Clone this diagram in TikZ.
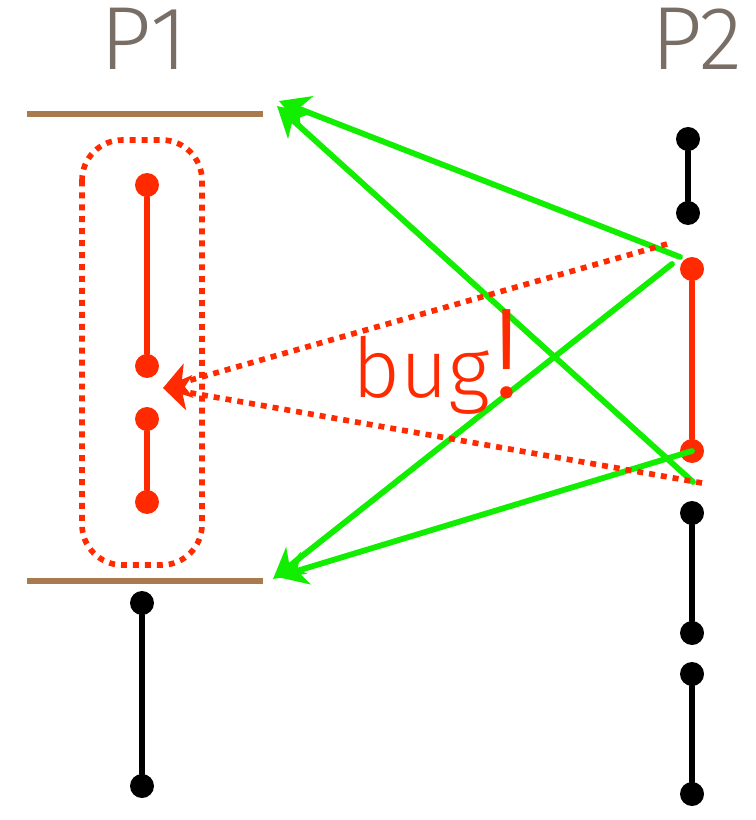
\documentclass[tikz,border=0pt]{standalone}
\usepackage{fontspec}
\setmainfont{Fira Sans Light}
\usetikzlibrary{arrows.meta}
\definecolor{nhan}{HTML}{786E66}
\definecolor{nau}{HTML}{A87B4F}
\definecolor{do}{HTML}{FF2A00}
\definecolor{xanh}{HTML}{11EE00}
\begin{document}
\begin{tikzpicture}[x=0.02cm, y=-0.02cm, line join=round, line cap=round,
	>={Stealth[length=17pt,width=19pt,inset=5pt]},
	cham/.style={circle, fill, inner sep=0pt, minimum size=0.48cm},
	doan/.style={line width=3.5pt},
	moc/.style={nau, line width=3.4pt, line cap=butt},
	muiten/.style={xanh, line width=3.3pt, ->},
	cham do/.style={do, line width=3.2pt, line cap=butt, dash pattern=on 3.4pt off 3.4pt}]
	% Khung hình
	\useasboundingbox (0,0) rectangle (755,820);
	
	% Tên hai tiến trình
	\node[text=nhan, font=\fontsize{51}{60}\selectfont] (p1) at (144,39) {P1};
	\node[text=nhan, font=\fontsize{51}{60}\selectfont] (p2) at (697,39) {P2};
	
	% Hai mốc của P1
	\coordinate (m1) at (27,114); \coordinate (m2) at (263,114);
	\coordinate (m3) at (27,581); \coordinate (m4) at (263,581);
	\draw[moc] (m1)--(m2);
	\draw[moc] (m3)--(m4);
	
	% Các đoạn trên P1
	\node[cham, do] (a1) at (147,185) {};
	\node[cham, do] (a2) at (147,366) {};
	\node[cham, do] (a3) at (147,419) {};
	\node[cham, do] (a4) at (147,502) {};
	\draw[doan, do, line width=3pt] (a1)--(a2);
	\draw[doan, do, line width=3pt] (a3)--(a4);
	\node[cham] (b1) at (142,603) {};
	\node[cham] (b2) at (142,786) {};
	\draw[doan] (b1)--(b2);
	\draw[cham do, rounded corners=23pt] (82,140) rectangle (202,565);
	
	% Các đoạn trên P2
	\node[cham] (c1) at (688,139) {};
	\node[cham] (c2) at (688,213) {};
	\draw[doan] (c1)--(c2);
	\node[cham, do] (d1) at (692,269) {};
	\node[cham, do] (d2) at (692,451) {};
	\draw[doan, do, line width=3pt] (d1)--(d2);
	\foreach \i/\ya/\yb in {1/513/633, 2/674/794}{
		\node[cham] (e\i a) at (692,\ya) {};
		\node[cham] (e\i b) at (692,\yb) {};
		\draw[doan] (e\i a)--(e\i b);
	}
	
	% Mũi tên xanh
	\coordinate (g1) at (680,257); \coordinate (g2) at (693,482);
	\coordinate (g3) at (672,264);
	\coordinate (t1) at (279,101); \coordinate (t2) at (277,106);
	\coordinate (t3) at (273,579); \coordinate (t4) at (277,577);
	\draw[muiten] (g1)--(t1);
	\draw[muiten] (g2)--(t2);
	\draw[muiten] (g3)--(t3);
	\draw[muiten] (d2.center)--(t4);
	
	% Mũi tên chấm đỏ
	\coordinate (r1) at (667,244); \coordinate (r2) at (702,483);
	\coordinate (r0) at (163,388);
	\draw[cham do, -{Stealth[length=15pt,width=20pt,inset=4pt]}] (r1)--(r0);
	\draw[cham do, -{Stealth[length=15pt,width=20pt,inset=4pt]}] (r2)--(r0);
	\node[anchor=base west, inner sep=0pt, text=do, font=\fontsize{47}{56}\selectfont] (loi) at (352,397) {bug\kern1pt\fontsize{73}{80}\selectfont!};
\end{tikzpicture}
\end{document}
